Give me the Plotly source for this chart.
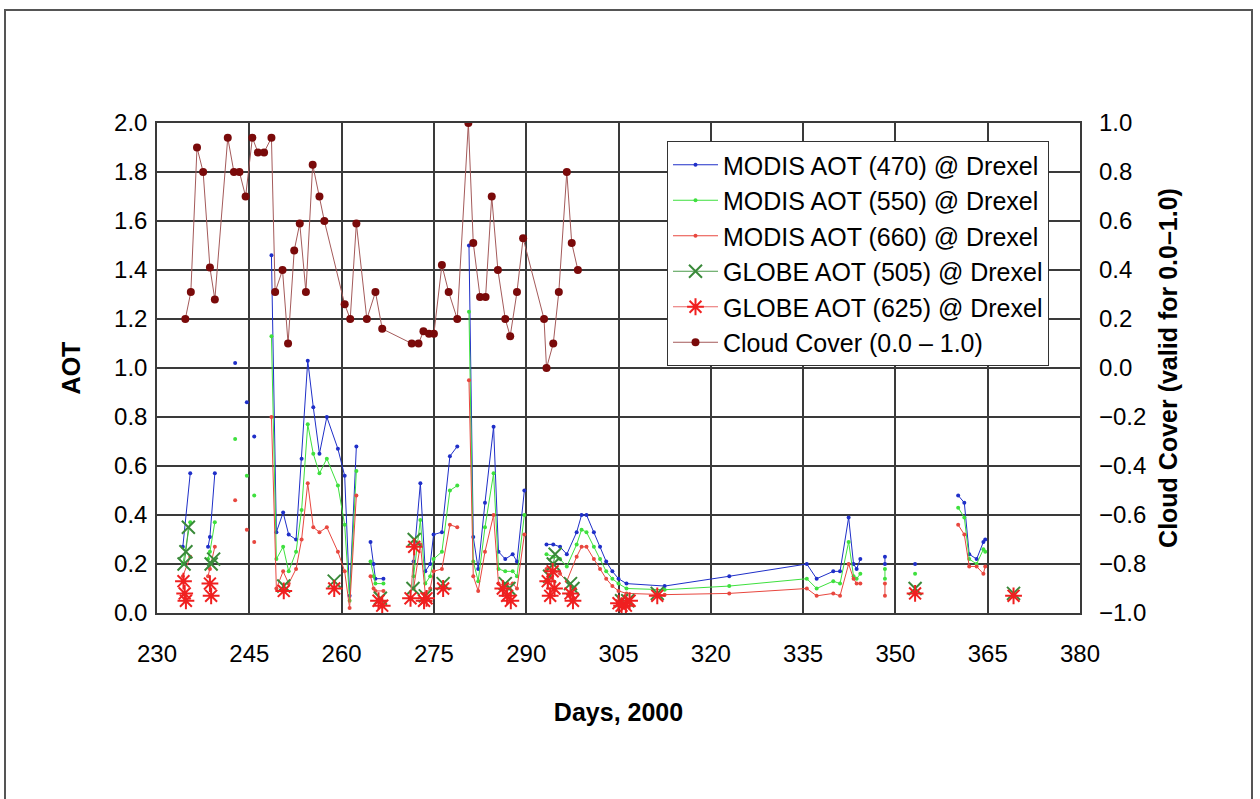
import plotly.graph_objects as go

# ---------------- data ----------------
# MODIS AOT: shared day array, None = gap between observation groups
modis_days = [234.2, 235.4, None, 238.3, 238.6, 239.4, None,
              242.7, None, 244.6, None, 245.8, None,
              248.6, 249.4, 250.5, 251.4, 252.6, 253.5, 254.5, 255.4, 256.4, 257.6, 259.4, 260.5, 261.3, 262.4, None,
              264.7, 265.2, 265.5, 266.8, None,
              271.7, 272.8, 273.6, 274.4, 274.95, 276.3, 277.6, 278.8, None,
              280.7, 281.4, 282.2, 283.3, 284.7, 285.5, 286.6, 287.8, 288.5, 289.7, None,
              293.3, 294.4, 295.5, 296.6, 298.2, 299.0, 299.8, 301.0, 302.0, 303.0, 304.0, 305.0, 306.3,
              312.5, 323.0, 335.6, 337.2, 339.9, 341.0, 342.4, 343.2, 343.7, 344.3, None,
              348.3, 348.3, None, 353.2, None,
              360.2, 361.2, 362.0, 363.2, 364.3, 364.6]
aot_470 = [0.27, 0.57, None, 0.27, 0.31, 0.57, None,
           1.02, None, 0.86, None, 0.72, None,
           1.46, 0.33, 0.41, 0.32, 0.30, 0.63, 1.03, 0.84, 0.65, 0.80, 0.67, 0.56, 0.07, 0.68, None,
           0.29, 0.20, 0.14, 0.14, None,
           0.21, 0.53, 0.17, 0.20, 0.32, 0.33, 0.64, 0.68, None,
           1.50, 0.31, 0.18, 0.45, 0.76, 0.25, 0.22, 0.24, 0.21, 0.50, None,
           0.28, 0.28, 0.27, 0.24, 0.33, 0.40, 0.40, 0.33, 0.27, 0.21, 0.17, 0.14, 0.12,
           0.11, 0.15, 0.20, 0.14, 0.17, 0.17, 0.39, 0.20, 0.18, 0.22, None,
           0.23, 0.20, None, 0.20, None,
           0.48, 0.45, 0.24, 0.22, 0.29, 0.30]
aot_550 = [0.20, 0.37, None, 0.22, 0.25, 0.37, None,
           0.71, None, 0.56, None, 0.48, None,
           1.13, 0.22, 0.27, 0.17, 0.25, 0.42, 0.77, 0.65, 0.57, 0.63, 0.52, 0.36, 0.05, 0.58, None,
           0.21, 0.15, 0.12, 0.12, None,
           0.15, 0.38, 0.12, 0.15, 0.22, 0.25, 0.50, 0.52, None,
           1.23, 0.21, 0.13, 0.35, 0.57, 0.18, 0.17, 0.17, 0.15, 0.40, None,
           0.24, 0.23, 0.22, 0.19, 0.28, 0.34, 0.33, 0.27, 0.22, 0.17, 0.14, 0.12, 0.10,
           0.095, 0.11, 0.14, 0.10, 0.13, 0.12, 0.29, 0.15, 0.14, 0.16, None,
           0.18, 0.14, None, 0.16, None,
           0.43, 0.39, 0.22, 0.20, 0.26, 0.25]
aot_660 = [0.15, 0.23, None, 0.15, 0.18, 0.27, None,
           0.46, None, 0.34, None, 0.29, None,
           0.80, 0.10, 0.17, 0.12, 0.18, 0.30, 0.53, 0.35, 0.33, 0.35, 0.25, 0.17, 0.02, 0.48, None,
           0.15, 0.10, 0.09, 0.09, None,
           0.10, 0.28, 0.08, 0.10, 0.17, 0.18, 0.36, 0.35, None,
           0.95, 0.15, 0.09, 0.25, 0.40, 0.12, 0.11, 0.12, 0.10, 0.32, None,
           0.18, 0.17, 0.16, 0.13, 0.23, 0.27, 0.27, 0.22, 0.18, 0.14, 0.11, 0.09, 0.08,
           0.075, 0.08, 0.10, 0.07, 0.08, 0.07, 0.20, 0.14, 0.12, 0.12, None,
           0.12, 0.07, None, None, None,
           0.36, 0.32, 0.19, 0.19, 0.16, 0.19]

# GLOBE sun-photometer AOT
globe_505_days = [234.4, 234.7, 235.1, None, 238.8, 239.2, None, 250.6, None, 258.8, None,
                  266.3, None, 271.6, 271.8, None, 273.6, None, 276.5, None,
                  286.6, 287.2, None, 293.8, 294.4, 294.7, None, 297.2, 297.6, None,
                  305.5, 306.5, None, 311.3, None, 353.2, None, 369.2]
globe_505 = [0.20, 0.25, 0.35, None, 0.20, 0.22, None, 0.11, None, 0.13, None,
             0.06, None, 0.10, 0.30, None, 0.07, None, 0.12, None,
             0.12, 0.10, None, 0.15, 0.20, 0.24, None, 0.12, 0.10, None,
             0.05, 0.05, None, 0.08, None, 0.10, None, 0.08]
globe_625_days = [234.3, 234.5, 234.7, None, 238.6, 238.8, None, 250.6, None, 258.8, None,
                  266.0, 266.6, None, 271.2, 271.8, None, 273.4, 273.8, None, 276.5, None,
                  286.2, 286.9, 287.5, None, 293.5, 293.9, 294.3, 294.6, None, 297.2, 297.6, None,
                  305.0, 305.5, 306.2, 306.8, None, 311.3, None, 353.2, None, 369.2]
globe_625 = [0.13, 0.08, 0.05, None, 0.12, 0.07, None, 0.09, None, 0.10, None,
             0.05, 0.03, None, 0.06, 0.27, None, 0.05, 0.06, None, 0.10, None,
             0.10, 0.07, 0.05, None, 0.13, 0.07, 0.17, 0.10, None, 0.08, 0.05, None,
             0.04, 0.03, 0.03, 0.05, None, 0.07, None, 0.08, None, 0.07]

# Cloud cover (0.0 - 1.0), right axis
cloud_days = [234.6, 235.5, 236.5, 237.5, 238.6, 239.4, 241.5, 242.5, 243.4, 244.4, 245.5, 246.4, 247.4,
              248.6, 249.2, 250.4, 251.3, 252.3, 253.2, 254.2, 255.3, 256.4, 257.2, 260.5, 261.4, 262.4,
              264.1, 265.5, 266.6, 271.4, 272.5, 273.3, 274.2, 275.0, 276.3, 277.4, 278.8, 280.6, 281.4,
              282.5, 283.4, 284.4, 285.4, 286.6, 287.4, 288.5, 289.5, 292.9, 293.3, 294.4, 295.3, 296.6,
              297.4, 298.4]
cloud_cover = [0.20, 0.31, 0.90, 0.80, 0.41, 0.28, 0.94, 0.80, 0.80, 0.70, 0.94, 0.88, 0.88,
               0.94, 0.31, 0.40, 0.10, 0.48, 0.59, 0.31, 0.83, 0.70, 0.60, 0.26, 0.20, 0.59,
               0.20, 0.31, 0.16, 0.10, 0.10, 0.15, 0.14, 0.14, 0.42, 0.31, 0.20, 1.00, 0.51,
               0.29, 0.29, 0.70, 0.40, 0.20, 0.13, 0.31, 0.53, 0.20, 0.00, 0.10, 0.31, 0.80,
               0.51, 0.40]

x_ticks = [230, 245, 260, 275, 290, 305, 320, 335, 350, 365, 380]

# ---------------- figure ----------------
FONT = "Liberation Sans, Arial, sans-serif"
TICK = 24
TITLE = 25
fig = go.Figure()

def modis(name, y, color):
    fig.add_trace(go.Scatter(x=modis_days, y=y, name=name, mode="lines+markers",
                             line=dict(color=color, width=1),
                             marker=dict(color=color, size=4, symbol="circle"),
                             legendgroup=name))

modis("MODIS AOT (470) @ Drexel", aot_470, "#1f2fc8")
modis("MODIS AOT (550) @ Drexel", aot_550, "#3ee03e")
modis("MODIS AOT (660) @ Drexel", aot_660, "#e8473f")

fig.add_trace(go.Scatter(x=globe_505_days, y=globe_505, name="GLOBE AOT (505) @ Drexel",
                         mode="lines+markers", line=dict(color="#4a9a4a", width=1),
                         marker=dict(symbol="x-thin", size=13, line=dict(color="#3a8a3a", width=2)),
                         legendgroup="g505"))
fig.add_trace(go.Scatter(x=globe_625_days, y=globe_625, name="GLOBE AOT (625) @ Drexel",
                         mode="lines+markers", line=dict(color="#e86a6a", width=1),
                         marker=dict(symbol="asterisk", size=14, line=dict(color="#f02020", width=2)),
                         legendgroup="g625"))
fig.add_trace(go.Scatter(x=cloud_days, y=cloud_cover, name="Cloud Cover (0.0 \u2013 1.0)",
                         mode="lines+markers", yaxis="y2",
                         line=dict(color="#a45a5a", width=1),
                         marker=dict(color="#7a0a0a", size=8, symbol="circle"),
                         legendgroup="cc"))

# outer frame of the scanned figure
fig.add_shape(type="rect", xref="paper", yref="paper",
              x0=(5 - 157) / 923, x1=(1252 - 157) / 923,
              y0=(613 - 810) / 490, y1=(613 - 10) / 490,
              line=dict(color="#555555", width=2), layer="below")

grid = "#3a3a3a"
fig.update_layout(
    width=1260, height=799,
    margin=dict(l=157, r=180, t=123, b=186),
    paper_bgcolor="white", plot_bgcolor="white",
    font=dict(family=FONT, size=TICK, color="black"),
    showlegend=True,
    legend=dict(x=(667 - 157) / 923, y=(613 - 141) / 490, xanchor="left", yanchor="top",
                bgcolor="white", bordercolor="#333333", borderwidth=1,
                font=dict(size=25, family=FONT), traceorder="grouped", tracegroupgap=0,
                itemwidth=45),
    xaxis=dict(range=[230, 380], tickvals=x_ticks, showgrid=True, gridcolor=grid, gridwidth=1.5,
               showline=True, linecolor=grid, linewidth=1.5, mirror=True, zeroline=False,
               ticks="", ticklabelstandoff=18, tickfont=dict(size=TICK),
               title=dict(text="<b>Days, 2000</b>", font=dict(size=TITLE), standoff=38)),
    yaxis=dict(range=[0, 2.0], dtick=0.2, tickformat=".1f", showgrid=True, gridcolor=grid, gridwidth=1.5,
               showline=True, linecolor=grid, linewidth=1.5, mirror=True, zeroline=False,
               ticks="", ticklabelstandoff=3, tickfont=dict(size=TICK),
               title=dict(text="<b>AOT</b>", font=dict(size=TITLE), standoff=26)),
    yaxis2=dict(range=[-1.0, 1.0], dtick=0.2, tickformat=".1f", overlaying="y", side="right",
                showgrid=False, zeroline=False, ticks="", ticklabelstandoff=18, tickfont=dict(size=TICK),
                title=dict(text="<b>Cloud Cover (valid for 0.0\u20131.0)</b>", font=dict(size=TITLE), standoff=14)),
)

fig.write_html("out.html")
